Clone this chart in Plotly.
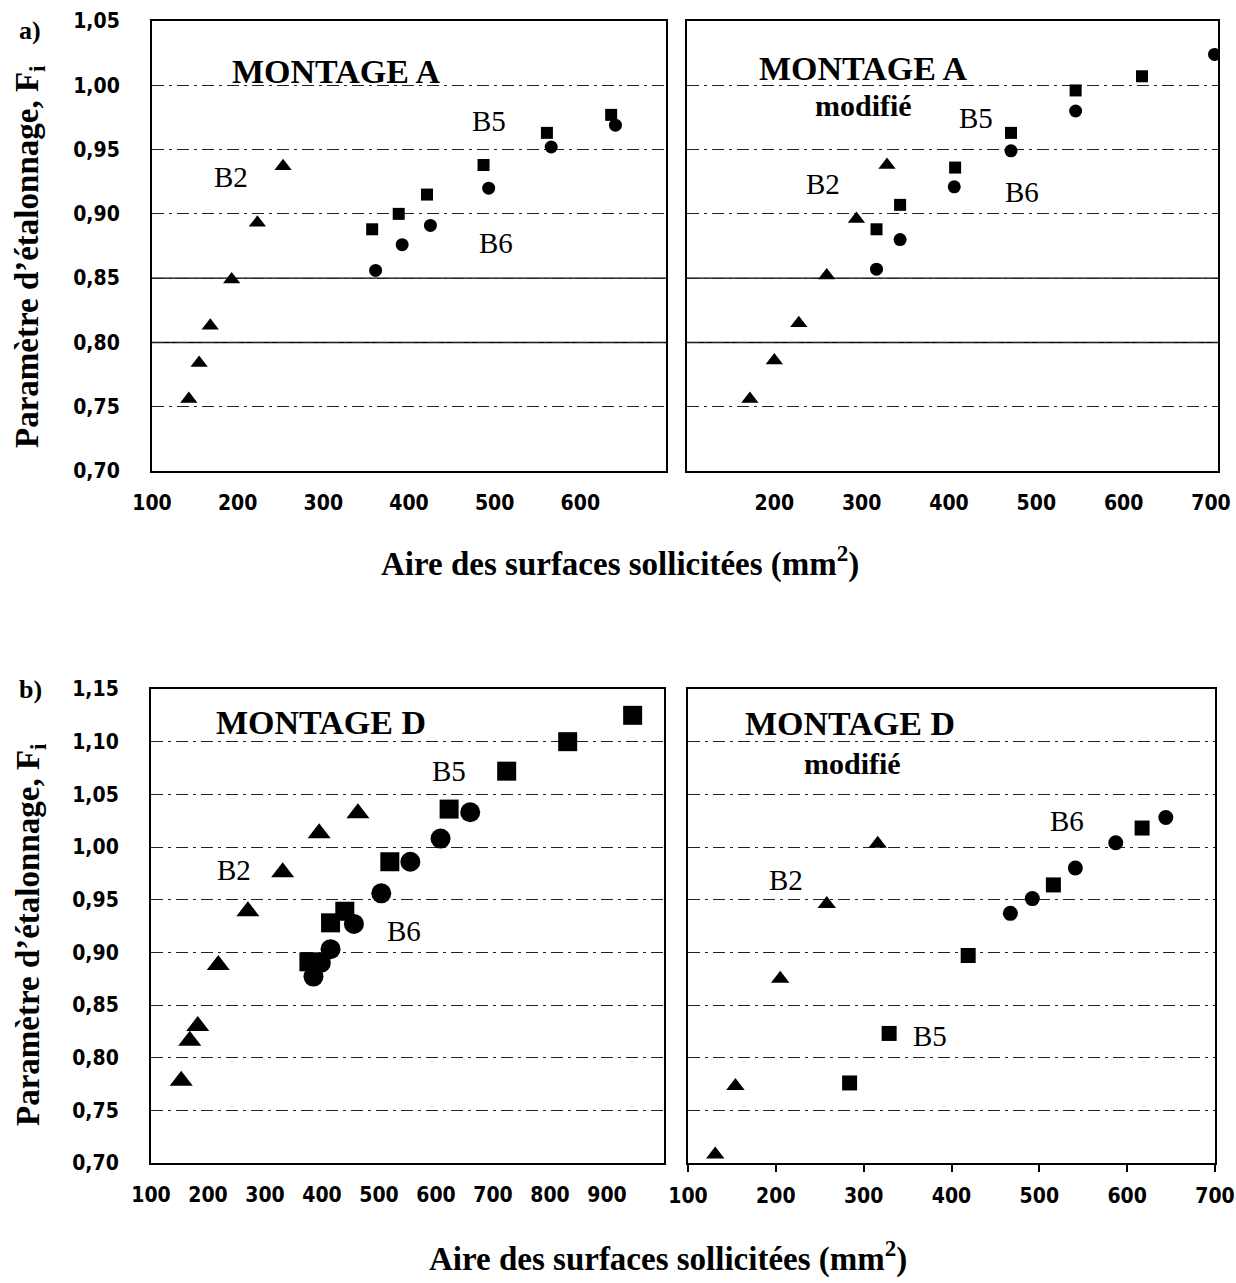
import plotly.graph_objects as go

# ---------------- DATA ----------------
# a) MONTAGE A
A_B2_X = [143, 155, 168, 193, 223, 253]
A_B2_Y = [0.756, 0.784, 0.813, 0.849, 0.893, 0.937]
A_B5_X = [357, 388, 421, 487, 561, 636]
A_B5_Y = [0.888, 0.900, 0.915, 0.938, 0.963, 0.977]
A_B6_X = [361, 392, 425, 493, 566, 641]
A_B6_Y = [0.856, 0.876, 0.891, 0.920, 0.952, 0.969]

# a) MONTAGE A modifié
AM_B2_X = [172, 200, 228, 260, 294, 329]
AM_B2_Y = [0.756, 0.786, 0.815, 0.852, 0.896, 0.938]
AM_B5_X = [317, 344, 407, 471, 545, 621]
AM_B5_Y = [0.888, 0.907, 0.936, 0.963, 0.996, 1.007]
AM_B6_X = [317, 344, 406, 471, 545, 704]
AM_B6_Y = [0.857, 0.880, 0.921, 0.949, 0.980, 1.024]

# b) MONTAGE D
D_B2_X = [153, 168, 182, 218, 270, 331, 395, 463]
D_B2_Y = [0.778, 0.816, 0.830, 0.888, 0.939, 0.976, 1.013, 1.032]
D_B5_X = [377, 415, 440, 519, 623, 724, 831, 945]
D_B5_Y = [0.891, 0.928, 0.939, 0.986, 1.036, 1.072, 1.100, 1.125]
D_B6_X = [385, 398, 415, 456, 504, 555, 608, 660]
D_B6_Y = [0.877, 0.890, 0.903, 0.927, 0.956, 0.986, 1.008, 1.033]

# b) MONTAGE D modifié
DM_B2_X = [131, 154, 205, 258, 316]
DM_B2_Y = [0.708, 0.773, 0.875, 0.946, 1.003]
DM_B5_X = [284, 329, 419, 516, 617]
DM_B5_Y = [0.776, 0.823, 0.897, 0.964, 1.018]
DM_B6_X = [467, 492, 541, 587, 644]
DM_B6_Y = [0.937, 0.951, 0.980, 1.004, 1.028]

# tick labels
X_TICKS_A_LEFT = [100, 200, 300, 400, 500, 600]
X_TICKS_A_RIGHT = [200, 300, 400, 500, 600, 700]
X_TICKS_B_LEFT = [100, 200, 300, 400, 500, 600, 700, 800, 900]
X_TICKS_B_RIGHT = [100, 200, 300, 400, 500, 600, 700]
Y_TICKS_A = [0.70, 0.75, 0.80, 0.85, 0.90, 0.95, 1.00, 1.05]
Y_TICKS_B = [0.70, 0.75, 0.80, 0.85, 0.90, 0.95, 1.00, 1.05, 1.10, 1.15]
SOLID_GRID_A = [0.80, 0.85]

Y_TITLE = "Paramètre d’étalonnage, F<sub>i</sub>"
X_TITLE = "Aire des surfaces sollicitées (mm<sup>2</sup>)"

W, H = 1236, 1283
SERIF = "Liberation Serif, Times New Roman, serif"
NARROW = "Liberation Sans Narrow, Arial Narrow, DejaVu Sans Condensed, sans-serif"


def px_dom(a, b, total):
    return [a / total, b / total]


def py_dom(top, bottom):
    return [1 - bottom / H, 1 - top / H]


fig = go.Figure()

panels = [
    ("x", "y", [(A_B2_X, A_B2_Y), (A_B5_X, A_B5_Y), (A_B6_X, A_B6_Y)], (15, 12, 13)),
    ("x2", "y2", [(AM_B2_X, AM_B2_Y), (AM_B5_X, AM_B5_Y), (AM_B6_X, AM_B6_Y)], (15, 12, 13)),
    ("x3", "y3", [(D_B2_X, D_B2_Y), (D_B5_X, D_B5_Y), (D_B6_X, D_B6_Y)], (20, 19, 20)),
    ("x4", "y4", [(DM_B2_X, DM_B2_Y), (DM_B5_X, DM_B5_Y), (DM_B6_X, DM_B6_Y)], (16, 15, 15)),
]
symbols = ["triangle-up", "square", "circle"]
names = ["B2", "B5", "B6"]

for xa, ya, series, sizes in panels:
    for (xs, ys), sym, nm, sz in zip(series, symbols, names, sizes):
        fig.add_trace(go.Scatter(
            x=xs, y=ys, mode="markers", name=nm, xaxis=xa, yaxis=ya,
            marker=dict(symbol=sym, size=sz, color="black", line=dict(width=0)),
            showlegend=False,
        ))

tick_font = dict(family=NARROW, size=21, color="black", weight="bold")


def xaxis(domain, rng, ticks, anchor, outside_ticks=False):
    return dict(
        domain=domain, range=rng, anchor=anchor, automargin=False,
        tickvals=ticks, tickformat="d",
        showline=True, linecolor="black", linewidth=2, mirror=True,
        showgrid=False, zeroline=False,
        tickfont=tick_font,
        ticks="outside" if outside_ticks else "",
        ticklen=7 if outside_ticks else 0,
        tickcolor="black", tickwidth=1.5,
        ticklabelstandoff=12 if not outside_ticks else 6,
    )


def yaxis(domain, rng, ticks, anchor, labels=True):
    return dict(
        domain=domain, range=rng, anchor=anchor, automargin=False,
        tickvals=ticks, tickformat=".2f",
        showline=True, linecolor="black", linewidth=2, mirror=True,
        showgrid=True, gridcolor="#222222", gridwidth=1.2, griddash="12px,5px,3px,5px",
        zeroline=False, showticklabels=labels,
        tickfont=tick_font, ticks="", ticklabelstandoff=26,
    )


dom_al = px_dom(152, 666, W)
dom_ar = px_dom(687, 1218, W)
dom_bl = px_dom(151, 664, W)
dom_br = px_dom(688, 1215, W)
dom_a = py_dom(21, 471)
dom_b = py_dom(689, 1163)

fig.update_layout(
    width=W, height=H, autosize=False,
    margin=dict(l=0, r=0, t=0, b=0, pad=0),
    paper_bgcolor="white", plot_bgcolor="white",
    separators=", ",
    xaxis=xaxis(dom_al, [100, 700], X_TICKS_A_LEFT, "y"),
    yaxis=yaxis(dom_a, [0.70, 1.05], Y_TICKS_A, "x"),
    xaxis2=xaxis(dom_ar, [100, 708], X_TICKS_A_RIGHT, "y2"),
    yaxis2=yaxis(dom_a, [0.70, 1.05], Y_TICKS_A, "x2", labels=False),
    xaxis3=xaxis(dom_bl, [100, 1000], X_TICKS_B_LEFT, "y3"),
    yaxis3=yaxis(dom_b, [0.70, 1.15], Y_TICKS_B, "x3"),
    xaxis4=xaxis(dom_br, [100, 700], X_TICKS_B_RIGHT, "y4", outside_ticks=True),
    yaxis4=yaxis(dom_b, [0.70, 1.15], Y_TICKS_B, "x4", labels=False),
)

for xr, yr in [("x", "y"), ("x2", "y2")]:
    for yv in SOLID_GRID_A:
        fig.add_shape(type="line", xref=f"{xr} domain", yref=yr, x0=0, x1=1, y0=yv, y1=yv,
                      line=dict(color="black", width=1.4), layer="below")

annos = []


def txt(text, x, y, xr, yr, size, bold=True):
    annos.append(dict(text=f"<b>{text}</b>" if bold else text, x=x, y=y, xref=xr, yref=yr,
                      showarrow=False, font=dict(family=SERIF, size=size, color="black"),
                      xanchor="center", yanchor="middle"))


txt("MONTAGE A", 315, 1.011, "x", "y", 34)
txt("B2", 192, 0.929, "x", "y", 29, bold=False)
txt("B5", 493, 0.972, "x", "y", 29, bold=False)
txt("B6", 501, 0.877, "x", "y", 29, bold=False)

txt("MONTAGE A", 302, 1.0127, "x2", "y2", 34)
txt("modifié", 302, 0.984, "x2", "y2", 30)
txt("B5", 431, 0.9746, "x2", "y2", 29, bold=False)
txt("B2", 256, 0.923, "x2", "y2", 29, bold=False)
txt("B6", 483, 0.917, "x2", "y2", 29, bold=False)

txt("MONTAGE D", 398, 1.1186, "x3", "y3", 34)
txt("B2", 246, 0.978, "x3", "y3", 29, bold=False)
txt("B5", 623, 1.072, "x3", "y3", 29, bold=False)
txt("B6", 543, 0.920, "x3", "y3", 29, bold=False)

txt("MONTAGE D", 285, 1.117, "x4", "y4", 34)
txt("modifié", 287, 1.079, "x4", "y4", 30)
txt("B2", 212, 0.969, "x4", "y4", 29, bold=False)
txt("B6", 531, 1.025, "x4", "y4", 29, bold=False)
txt("B5", 375, 0.821, "x4", "y4", 29, bold=False)

txt("a)", 30 / W, 1 - 30 / H, "paper", "paper", 26)
txt("b)", 30 / W, 1 - 690 / H, "paper", "paper", 26)
txt(X_TITLE, 620 / W, 1 - 561 / H, "paper", "paper", 33)
txt(X_TITLE, 668 / W, 1 - 1256 / H, "paper", "paper", 33)

for yc in [257, 935]:
    annos.append(dict(text=f"<b>{Y_TITLE}</b>", x=30 / W, y=1 - yc / H, xref="paper", yref="paper",
                      showarrow=False, textangle=-90,
                      font=dict(family=SERIF, size=33, color="black"),
                      xanchor="center", yanchor="middle"))

fig.update_layout(annotations=annos)

fig.write_html(
    "out.html",
    config={"displayModeBar": False},
    post_script="document.body.style.margin='0px';document.body.style.overflow='hidden';",
)
